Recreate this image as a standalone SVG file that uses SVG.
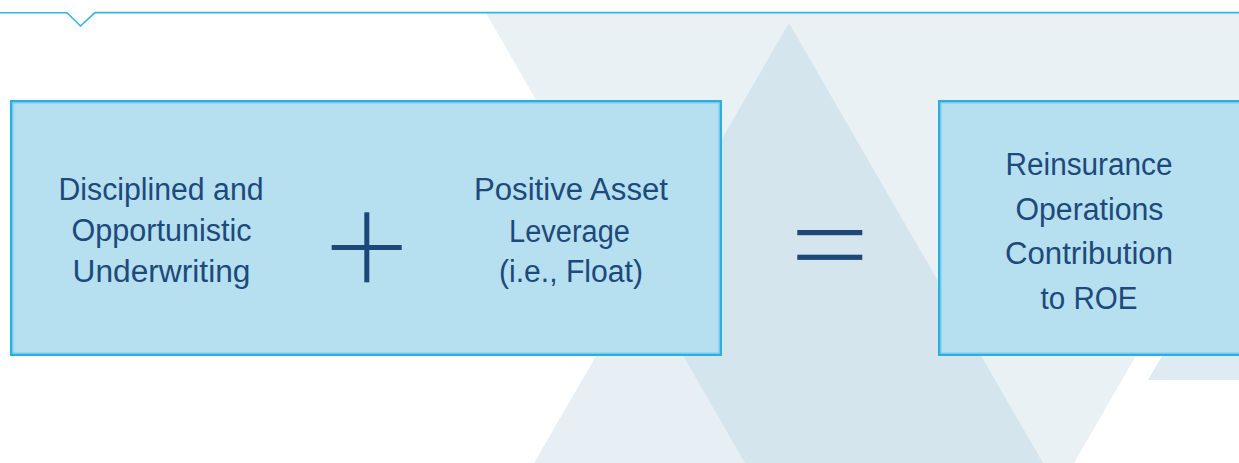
<svg xmlns="http://www.w3.org/2000/svg" width="1239" height="463" viewBox="0 0 1239 463">
  <style>
    .box { fill: #b6dff0; stroke: #2aafe3; stroke-width: 2.5; }
    .inner { fill: none; stroke: #7ccbec; stroke-width: 1; }
    .lbl { font-family: "Liberation Sans", Arial, sans-serif; font-size: 31px; fill: #1d4a7b; text-anchor: middle; }
    .op { fill: #1d4878; }
  </style>
  <rect width="1239" height="463" fill="#ffffff"/>
  <g id="background">
    <polygon points="486,13 1334,13 1074,463 745,463" fill="#e9f1f5"/>
    <polygon points="789,23 534,463 1043,463" fill="#e7eff5"/>
    <polygon points="789,23 639.8,280.5 745,463 1043,463" fill="#d4e5ee"/>
    <polygon points="1148,380 1330,68 1400,380" fill="#deebf2"/>
    <polyline points="0,12.8 67,12.8 80.5,26 95,12.6 1239,12.6" fill="none" stroke="#34b3e4" stroke-width="1.6"/>
  </g>
  <g id="node-inputs">
    <rect class="box" x="11.25" y="101.25" width="709.5" height="253.5"/>
    <rect class="inner" x="13" y="103" width="706" height="250"/>
    <text class="lbl" x="161" y="200" textLength="205" lengthAdjust="spacingAndGlyphs">Disciplined and</text>
    <text class="lbl" x="161.5" y="241" textLength="180" lengthAdjust="spacingAndGlyphs">Opportunistic</text>
    <text class="lbl" x="161.5" y="282" textLength="178" lengthAdjust="spacingAndGlyphs">Underwriting</text>
    <text class="lbl" x="571" y="200" textLength="194" lengthAdjust="spacingAndGlyphs">Positive Asset</text>
    <text class="lbl" x="569.5" y="241.5" textLength="121" lengthAdjust="spacingAndGlyphs">Leverage</text>
    <text class="lbl" x="571" y="282" textLength="144" lengthAdjust="spacingAndGlyphs">(i.e., Float)</text>
  </g>
  <g id="node-result">
    <rect class="box" x="939.25" y="101.25" width="310" height="253.5"/>
    <rect class="inner" x="941" y="103" width="306" height="250"/>
    <text class="lbl" x="1089" y="175" textLength="167" lengthAdjust="spacingAndGlyphs">Reinsurance</text>
    <text class="lbl" x="1089.5" y="219.5" textLength="148" lengthAdjust="spacingAndGlyphs">Operations</text>
    <text class="lbl" x="1089" y="264" textLength="168" lengthAdjust="spacingAndGlyphs">Contribution</text>
    <text class="lbl" x="1089" y="308.5" textLength="97" lengthAdjust="spacingAndGlyphs">to ROE</text>
  </g>
  <g id="operators">
    <g id="plus">
      <rect class="op" x="364.3" y="212.3" width="5" height="70"/>
      <rect class="op" x="331.7" y="245" width="70" height="5"/>
    </g>
    <g id="equals">
      <rect class="op" x="797.3" y="230" width="65" height="5.2"/>
      <rect class="op" x="797.3" y="254.7" width="65" height="5.2"/>
    </g>
  </g>
</svg>
